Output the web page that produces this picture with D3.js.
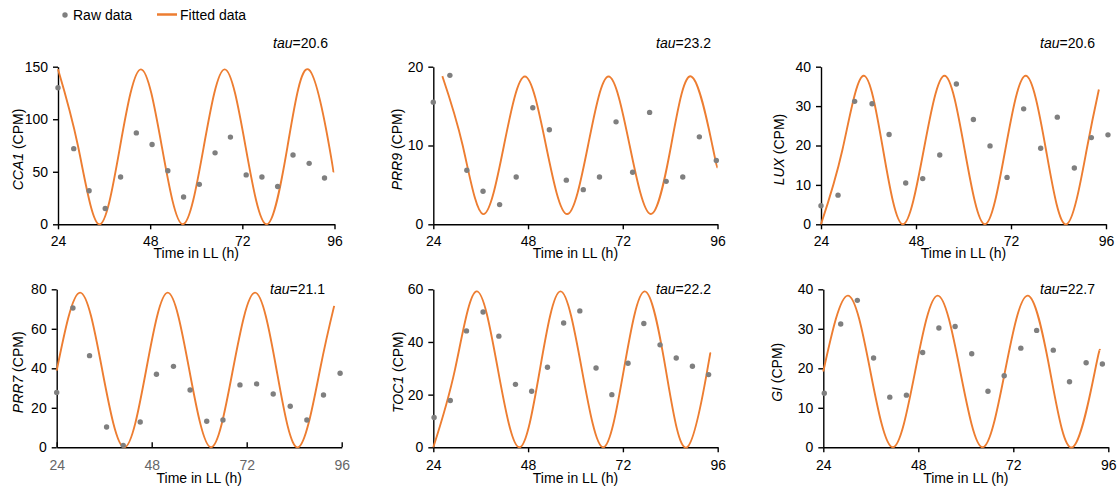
<!DOCTYPE html>
<html>
<head>
<meta charset="utf-8">
<script src="https://cdn.jsdelivr.net/npm/d3@7"></script>
<style>
  body { margin: 0; background: #fff; }
  text { font-family: "Liberation Sans", Arial, sans-serif; }
</style>
</head>
<body>
<svg id="chart" width="1119" height="490"></svg>
<script>
// ---- data ----
const genes = ["CCA1", "PRR9", "LUX", "PRR7", "TOC1", "GI"];
const taus = [20.6, 23.2, 20.6, 21.1, 22.2, 22.7];
const yMaxes = [150, 20, 40, 80, 60, 40];
const yTickSets = [[0, 50, 100, 150], [0, 10, 20], [0, 10, 20, 30, 40],
                   [0, 20, 40, 60, 80], [0, 20, 40, 60], [0, 10, 20, 30, 40]];
const xTicks = [24, 48, 72, 96];

// raw data [time (h), CPM]
const cca1Raw = [[24,130],[28.1,72],[32.1,32],[36.3,15],[40.3,45],[44.4,87],[48.5,76],[52.6,51],[56.7,26],
                 [60.8,38],[64.9,68],[68.9,83],[73,47],[77.1,45],[81.2,36],[85.2,66],[89.4,58],[93.4,44]];
const prr9Raw = [[24,15.5],[28.2,18.9],[32.5,6.85],[36.6,4.2],[40.8,2.5],[45,6],[49.2,14.8],[53.4,12],[57.7,5.6],
                 [62,4.4],[66.1,6],[70.3,13],[74.5,6.6],[78.8,14.2],[83,5.45],[87.2,6],[91.4,11.1],[95.7,8.1]];
const luxRaw = [[24,4.7],[28.3,7.4],[32.5,31.2],[36.9,30.6],[41.2,22.8],[45.4,10.5],[49.7,11.6],[54,17.6],[58.2,35.6],
                [62.5,26.6],[66.7,19.9],[71,11.9],[75.2,29.3],[79.5,19.3],[83.7,27.2],[88,14.3],[92.3,22],[96.5,22.7]];
const prr7Raw = [[24,27.8],[28.1,70.5],[32.3,46.4],[36.6,10.3],[40.8,1],[45.1,12.8],[49.2,37],[53.5,41],[57.7,29],
                 [61.9,13.2],[66,13.8],[70.3,31.6],[74.5,32.1],[78.7,27],[83,20.8],[87.2,13.8],[91.4,26.5],[95.6,37.5]];
const toc1Raw = [[24.2,11.3],[28.3,17.8],[32.4,44.2],[36.6,51.4],[40.6,42.2],[44.8,23.9],[48.9,21.3],[52.9,30.4],[57,47.2],
                 [61.1,51.8],[65.2,30.1],[69.2,20],[73.3,31.9],[77.3,47],[81.4,38.9],[85.5,33.9],[89.6,30.8],[93.7,27.6]];
const giRaw = [[24.25,13.7],[28.4,31.2],[32.6,37.2],[36.7,22.6],[40.8,12.7],[45,13.2],[49.1,24],[53.2,30.2],[57.3,30.6],
               [61.5,23.7],[65.6,14.2],[69.7,18.1],[73.9,25.1],[77.9,29.6],[82.1,24.6],[86.2,16.6],[90.4,21.4],[94.5,21.1]];

// fitted curve: extremes and mid-crossings [time (h), CPM]
const cca1Fit = [[24,147.5],[29.25,73.75],[34.7,0],[40.15,73.75],[45.6,147.5],[51.05,73.75],[56.5,0],[61.95,73.75],
                 [67.4,147.5],[72.85,73.75],[78.3,0],[83.75,73.75],[89.2,147.5],[94.65,73.75],[95.7,49.5]];
const prr9Fit = [[26.3,18.8],[31.45,10],[36.6,1.3],[41.9,10],[47.2,18.75],[52.55,10],[57.9,1.3],[63.2,10],
                 [68.4,18.75],[73.75,10],[79.1,1.3],[84.25,10],[89.4,18.75],[94.7,10],[96,7.2]];
const luxFit = [[24,0],[29.4,18.85],[34.7,37.7],[39.7,18.85],[44.7,0],[49.95,18.85],[55.2,37.7],[60.3,18.85],
                [65.4,0],[70.55,18.85],[75.7,37.7],[80.85,18.85],[86,0],[91.1,18.85],[94.2,34.2]];
const prr7Fit = [[24,38.8],[29.9,78.3],[35.5,39.15],[41.1,0],[46.6,39.15],[52.05,78.3],[57.5,39.15],[63,0],
                 [68.5,39.15],[74.1,78.3],[79.55,39.15],[85,0],[90.5,39.15],[94.1,71.6]];
const toc1Fit = [[24,0],[29.5,29.6],[34.9,59.2],[40.35,29.6],[45.8,0],[51,29.6],[56.2,59.2],[61.6,29.6],
                 [67,0],[72.25,29.6],[77.5,59.2],[82.85,29.6],[88.2,0],[93.4,29.6],[93.9,33.8]];
const giFit = [[24,19.2],[30.2,38.4],[35.9,19.2],[41.55,0],[47.2,19.2],[52.9,38.4],[58.6,19.2],[64.25,0],
               [69.9,19.2],[75.6,38.4],[81.3,19.2],[86.95,0],[92.6,19.2],[93.9,24.6]];

const rawSets = [cca1Raw, prr9Raw, luxRaw, prr7Raw, toc1Raw, giRaw];
const fitSets = [cca1Fit, prr9Fit, luxFit, prr7Fit, toc1Fit, giFit];

// ---- layout ----
const orange = "#ED7D31", grey = "#7f7f7f";
const layout = [
  {l: 58,    r: 334.5, t: 66.7,  b: 224.3, labX: 17.5, tauX: 328,  tauY: 47.5, tickIn: false, tickCol: "#000"},
  {l: 433.3, r: 717.5, t: 66.7,  b: 224.3, labX: 397,  tauX: 711,  tauY: 47.5, tickIn: false, tickCol: "#000"},
  {l: 821,   r: 1106,  t: 66.7,  b: 224.3, labX: 779,  tauX: 1095, tauY: 47.5, tickIn: false, tickCol: "#000"},
  {l: 56.7,  r: 341.7, t: 289.3, b: 447.3, labX: 17.5, tauX: 325,  tauY: 294,  tickIn: true,  tickCol: "#666"},
  {l: 433.3, r: 717.7, t: 289.3, b: 447.3, labX: 397.5,tauX: 711,  tauY: 294,  tickIn: false, tickCol: "#000"},
  {l: 823.3, r: 1108.3,t: 289.3, b: 447.3, labX: 777,  tauX: 1095, tauY: 294,  tickIn: false, tickCol: "#000"}
];

const svg = d3.select("#chart");

genes.forEach((gene, i) => {
  const p = layout[i];
  const x = d3.scaleLinear().domain([24, 96]).range([p.l, p.r]);
  const y = d3.scaleLinear().domain([0, yMaxes[i]]).range([p.b, p.t]);
  const g = svg.append("g");

  // axes
  const xa = g.append("g").attr("transform", `translate(0,${p.b})`)
    .call(d3.axisBottom(x).tickValues(xTicks).tickSizeInner(p.tickIn ? -5 : 5).tickSizeOuter(0));
  xa.selectAll(".tick text").attr("y", p.b > 300 ? 23 : 22).attr("dy", null)
    .attr("fill", p.tickCol).style("font-size", "14px");
  xa.attr("font-family", null);

  const ya = g.append("g").attr("transform", `translate(${p.l},0)`)
    .call(d3.axisLeft(y).tickValues(yTickSets[i]).tickSizeInner(5).tickSizeOuter(0).tickPadding(5));
  ya.selectAll(".tick text").attr("fill", "#000").style("font-size", "14px");
  ya.attr("font-family", null);

  g.selectAll(".domain, .tick line").attr("stroke", "#000").attr("stroke-width", 1.4);

  // fitted line
  g.append("path").datum(fitSets[i])
    .attr("fill", "none").attr("stroke", orange).attr("stroke-width", 1.9)
    .attr("d", d3.line().x(d => x(d[0])).y(d => y(d[1])).curve(d3.curveNatural));

  // raw points
  g.selectAll("circle.raw").data(rawSets[i]).enter().append("circle")
    .attr("class", "raw")
    .attr("cx", d => x(d[0])).attr("cy", d => y(d[1]))
    .attr("r", 2.7).attr("fill", grey);

  // x label
  g.append("text").attr("x", (p.l + p.r) / 2).attr("y", p.b + (p.b > 300 ? 36 : 34))
    .attr("text-anchor", "middle").style("font-size", "14px").text("Time in LL (h)");

  // y label
  const yl = g.append("text")
    .attr("transform", `translate(${p.labX},${(p.t + p.b) / 2 + 4}) rotate(-90)`)
    .attr("text-anchor", "middle").attr("dominant-baseline", "central").style("font-size", "14px");
  yl.append("tspan").style("font-style", "italic").text(gene);
  yl.append("tspan").text(" (CPM)");

  // tau
  const tt = g.append("text").attr("x", p.tauX).attr("y", p.tauY)
    .attr("text-anchor", "end").style("font-size", "14px");
  tt.append("tspan").style("font-style", "italic").text("tau");
  tt.append("tspan").text("=" + taus[i]);
});

// legend
const lg = svg.append("g");
lg.append("circle").attr("cx", 65).attr("cy", 15).attr("r", 2.7).attr("fill", grey);
lg.append("text").attr("x", 73).attr("y", 20).style("font-size", "14px").text("Raw data");
lg.append("line").attr("x1", 157).attr("x2", 177).attr("y1", 14.5).attr("y2", 14.5)
  .attr("stroke", orange).attr("stroke-width", 2.5);
lg.append("text").attr("x", 180).attr("y", 20).style("font-size", "14px").text("Fitted data");
</script>
</body>
</html>
